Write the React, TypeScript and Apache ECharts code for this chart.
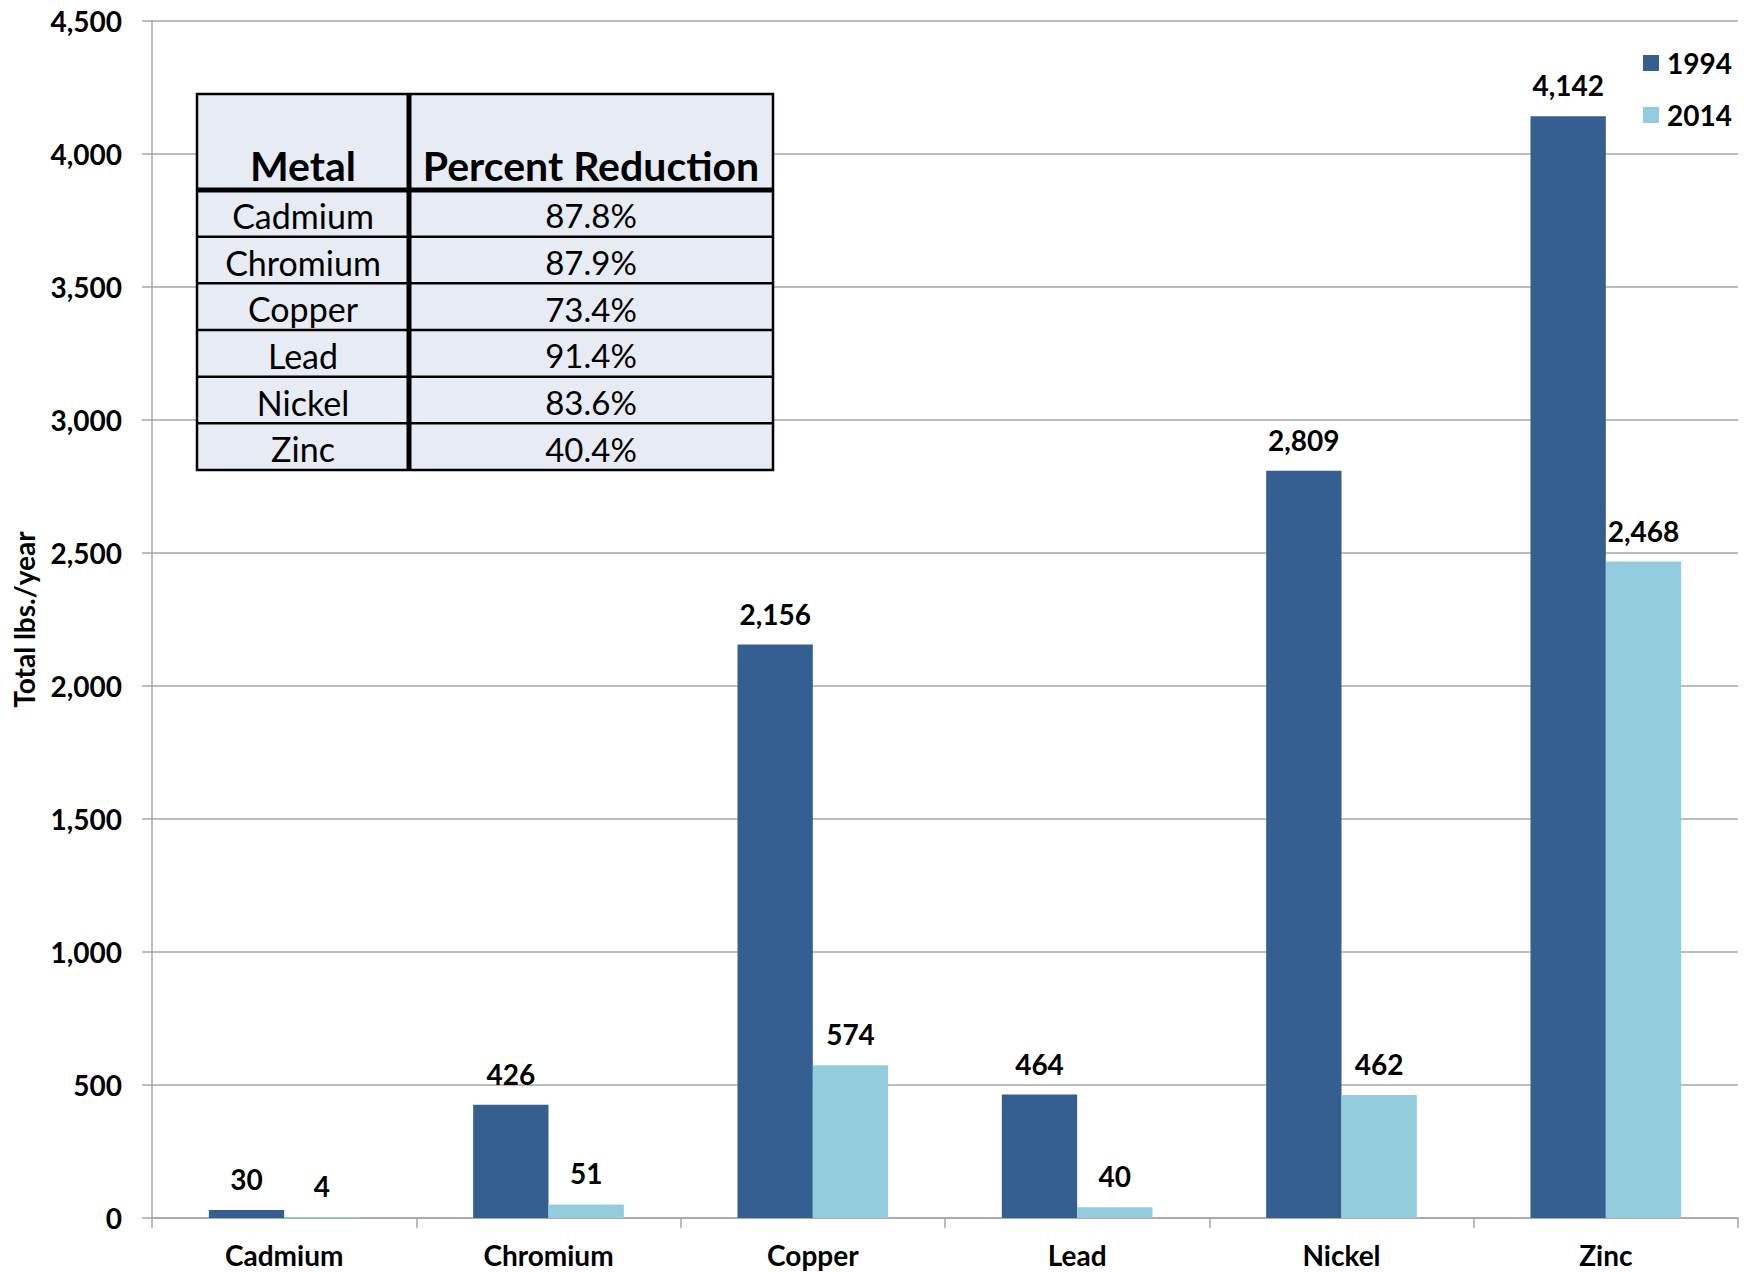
import React, { useEffect, useRef } from "react";
import * as echarts from "echarts";

// Metal discharge totals (lbs./year)
const categories = ["Cadmium", "Chromium", "Copper", "Lead", "Nickel", "Zinc"];
const values1994 = [30, 426, 2156, 464, 2809, 4142];
const values2014 = [4, 51, 574, 40, 462, 2468];
const seriesNames = ["1994", "2014"];

// Inset table rows
const tableHeader = ["Metal", "Percent Reduction"];
const tableMetals = ["Cadmium", "Chromium", "Copper", "Lead", "Nickel", "Zinc"];
const tableReductions = ["87.8%", "87.9%", "73.4%", "91.4%", "83.6%", "40.4%"];

const FONT = "Lato, 'Noto Sans', sans-serif";
const DARK = "#365F91";
const LIGHT = "#93CDDD";
const GRID = "#A6A6A6";

const fmt = (v: number) => v.toLocaleString("en-US");

function buildTable(): any[] {
  const left = 197;
  const right = 773;
  const top = 94;
  const headBottom = 190;
  const bottom = 470;
  const colX = 409;
  const rowH = (bottom - headBottom) / tableMetals.length;
  const c1 = (left + colX) / 2;
  const c2 = (colX + right) / 2;
  const els: any[] = [];
  els.push({
    type: "rect",
    shape: { x: left, y: top, width: right - left, height: bottom - top },
    style: { fill: "#E7ECF4", stroke: "#000", lineWidth: 2.5 },
    z: 10,
  });
  for (let i = 1; i < tableMetals.length; i++) {
    const y = headBottom + rowH * i;
    els.push({
      type: "line",
      shape: { x1: left, y1: y, x2: right, y2: y },
      style: { stroke: "#000", lineWidth: 2.5 },
      z: 11,
    });
  }
  els.push({
    type: "line",
    shape: { x1: left, y1: headBottom, x2: right, y2: headBottom },
    style: { stroke: "#000", lineWidth: 5 },
    z: 12,
  });
  els.push({
    type: "line",
    shape: { x1: colX, y1: top, x2: colX, y2: bottom },
    style: { stroke: "#000", lineWidth: 5 },
    z: 12,
  });
  [c1, c2].forEach((cx, k) => {
    els.push({
      type: "text",
      x: cx,
      y: 165,
      style: { text: tableHeader[k], font: `bold 41px ${FONT}`, fill: "#000", align: "center", verticalAlign: "middle" },
      z: 13,
    });
  });
  tableMetals.forEach((m, i) => {
    const cy = headBottom + rowH * i + rowH / 2 + 2;
    els.push({
      type: "text",
      x: c1,
      y: cy,
      style: { text: m, font: `34px ${FONT}`, fill: "#000", align: "center", verticalAlign: "middle" },
      z: 13,
    });
    els.push({
      type: "text",
      x: c2,
      y: cy,
      style: { text: tableReductions[i], font: `33px ${FONT}`, fill: "#000", align: "center", verticalAlign: "middle" },
      z: 13,
    });
  });
  return els;
}

export default function App() {
  const ref = useRef<HTMLDivElement>(null);

  useEffect(() => {
    if (!ref.current) return;
    const chart = echarts.init(ref.current, undefined, { renderer: "svg" });
    const labelStyle = {
      show: true,
      position: "top" as const,
      distance: 17,
      fontFamily: FONT,
      fontWeight: "bold" as const,
      fontSize: 28,
      color: "#000",
      formatter: (p: any) => fmt(p.value),
    };
    chart.setOption({
      animation: false,
      backgroundColor: "#fff",
      textStyle: { fontFamily: FONT },
      grid: { left: 152, right: 14, top: 21, bottom: 54, containLabel: false },
      legend: {
        orient: "vertical",
        left: 1638,
        top: 44,
        itemWidth: 16,
        itemHeight: 16,
        itemGap: 24,
        icon: "rect",
        data: seriesNames,
        textStyle: { fontFamily: FONT, fontWeight: "bold", fontSize: 28, color: "#000", padding: [0, 0, 0, 3] },
      },
      xAxis: {
        type: "category",
        data: categories,
        axisLine: { show: true, lineStyle: { color: GRID, width: 1.5 } },
        axisTick: { show: true, length: 10, lineStyle: { color: GRID, width: 1.5 } },
        axisLabel: {
          fontFamily: FONT,
          fontWeight: "bold",
          fontSize: 28,
          lineHeight: 30,
          color: "#000",
          margin: 22,
        },
      },
      yAxis: {
        type: "value",
        min: 0,
        max: 4500,
        interval: 500,
        name: "Total lbs./year",
        nameLocation: "middle",
        nameGap: 114,
        nameRotate: 90,
        nameTextStyle: { fontFamily: FONT, fontWeight: "bold", fontSize: 28, color: "#000" },
        axisLine: { show: true, lineStyle: { color: GRID, width: 1.5 } },
        axisTick: { show: true, length: 10, lineStyle: { color: GRID, width: 1.5 } },
        splitLine: { show: true, lineStyle: { color: GRID, width: 1.5 } },
        axisLabel: {
          fontFamily: FONT,
          fontWeight: "bold",
          fontSize: 28,
          color: "#000",
          margin: 30,
          formatter: (v: number) => fmt(v),
        },
      },
      series: [
        {
          name: seriesNames[0],
          type: "bar",
          data: values1994,
          itemStyle: { color: DARK },
          barGap: "0%",
          barCategoryGap: "43%",
          label: labelStyle,
        },
        {
          name: seriesNames[1],
          type: "bar",
          data: values2014,
          itemStyle: { color: LIGHT },
          barGap: "0%",
          barCategoryGap: "43%",
          label: labelStyle,
        },
      ],
      graphic: buildTable(),
    });
    return () => chart.dispose();
  }, []);

  return (
    <div
      ref={ref}
      style={{ position: "fixed", left: 0, top: 0, width: 1752, height: 1272, background: "#fff" }}
    />
  );
}
